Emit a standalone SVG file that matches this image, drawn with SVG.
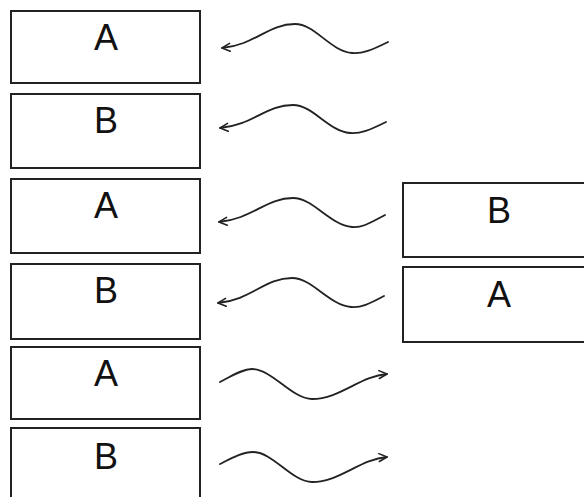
<svg xmlns="http://www.w3.org/2000/svg" width="584" height="497" viewBox="0 0 584 497">
  <style>
    .box { fill: #fff; stroke: #222; stroke-width: 2; }
    .lbl { font-family: "Liberation Sans", Arial, sans-serif; font-size: 36px; fill: #111; text-anchor: middle; }
    .wave { fill: none; stroke: #222; stroke-width: 1.8; stroke-linecap: round; }
  </style>
  <defs>
    <marker id="head" viewBox="0 0 10 10" refX="9" refY="5" markerWidth="5.5" markerHeight="5.5" orient="auto" markerUnits="strokeWidth">
      <path d="M1,1 L9,5 L1,9" fill="none" stroke="#222" stroke-width="1.6" stroke-linejoin="round" stroke-linecap="round"/>
    </marker>
  </defs>
  <rect width="584" height="497" fill="#fff"/>

  <g id="left-1"><rect class="box" x="11" y="11" width="189" height="72"/><text class="lbl" x="106" y="50">A</text></g>
  <g id="left-2"><rect class="box" x="11" y="94" width="189" height="74"/><text class="lbl" x="106" y="133">B</text></g>
  <g id="left-3"><rect class="box" x="11" y="179" width="189" height="74"/><text class="lbl" x="106" y="218">A</text></g>
  <g id="left-4"><rect class="box" x="11" y="264" width="189" height="75"/><text class="lbl" x="106" y="303">B</text></g>
  <g id="left-5"><rect class="box" x="11" y="347" width="189" height="72"/><text class="lbl" x="106" y="386">A</text></g>
  <g id="left-6"><rect class="box" x="11" y="428" width="189" height="80"/><text class="lbl" x="106" y="469">B</text></g>

  <g id="right-1"><rect class="box" x="403" y="183" width="190" height="74"/><text class="lbl" x="499" y="223">B</text></g>
  <g id="right-2"><rect class="box" x="403" y="267" width="190" height="75"/><text class="lbl" x="499" y="307">A</text></g>

  <g id="connectors">
    <path class="wave" marker-end="url(#head)" d="M388,42 C372,50 362,54 352,53 C330,51 315,24 295,24 C268,24 255,45 222,48"/>
    <path class="wave" marker-end="url(#head)" d="M386,122 C370,130 360,134 350,133 C328,131 313,105 293,105 C266,105 253,125 220,128"/>
    <path class="wave" marker-end="url(#head)" d="M385,215 C370,223 362,228 352,227 C330,225 313,198 293,198 C266,198 252,219 219,222"/>
    <path class="wave" marker-end="url(#head)" d="M384,296 C369,304 361,308 351,307 C329,305 312,278 292,278 C265,278 251,300 218,303"/>
    <path class="wave" marker-end="url(#head)" d="M220,382 C232,376 242,369 252,369 C272,369 292,399 312,399 C340,399 360,376 387,374"/>
    <path class="wave" marker-end="url(#head)" d="M220,464 C232,458 243,452 253,452 C273,452 292,482 312,482 C340,482 360,459 387,457"/>
  </g>
</svg>
